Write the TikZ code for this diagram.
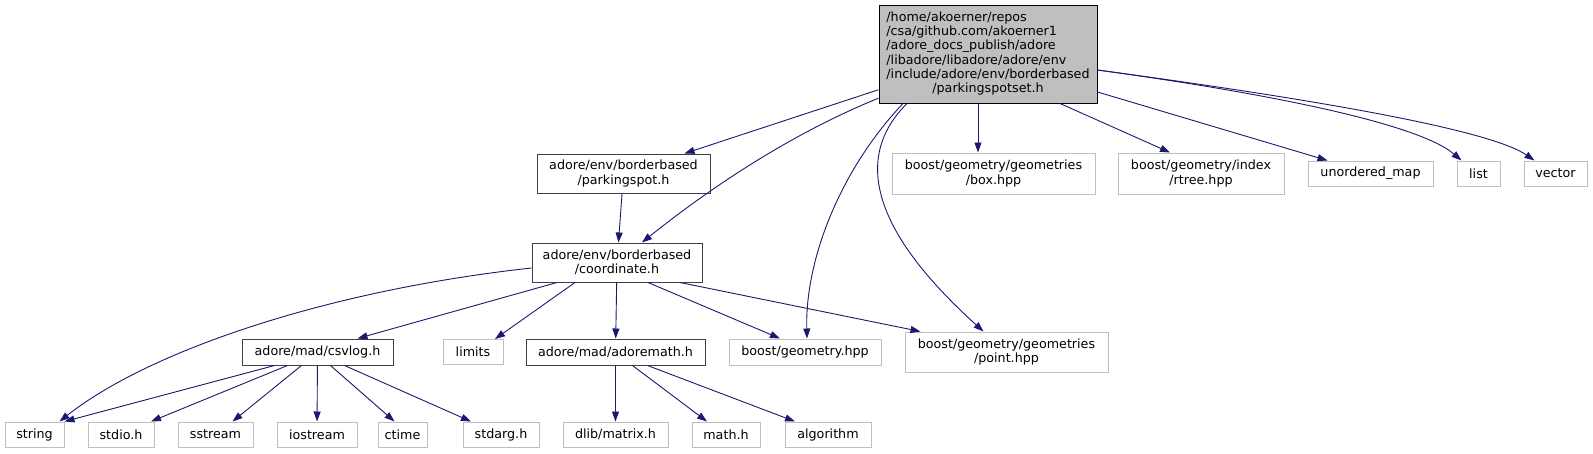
\documentclass[tikz,border=0pt]{standalone}
\usepackage{fontspec}
\setmainfont{DejaVu Sans}
\usetikzlibrary{arrows.meta}
\definecolor{edgeblue}{RGB}{25,25,112}
\definecolor{extgray}{RGB}{191,191,191}
\definecolor{rootfill}{RGB}{191,191,191}
\definecolor{intborder}{RGB}{64,64,64}
\tikzset{
  box/.style={draw, line width=1pt, inner sep=0pt, align=center, font=\fontsize{12.7}{14.3}\selectfont},
  intnode/.style={box, draw=intborder},
  extnode/.style={box, draw=extgray},
  rootnode/.style={box, draw=black, fill=rootfill},
  edge/.style={draw=edgeblue, line width=0.9pt, -{Triangle[length=10pt,width=7pt]}, fill=none},
}
\begin{document}
\begin{tikzpicture}[x=1pt,y=-1pt]
\useasboundingbox (0,0) rectangle (1593,453);
% nodes
\node[rootnode, minimum width=218pt, minimum height=98pt] (root) at (988,54) {\begin{tabular}{@{}l@{}}/home/akoerner/repos\\/csa/github.com/akoerner1\\/adore\_docs\_publish/adore\\/libadore/libadore/adore/env\\/include/adore/env/borderbased\\\multicolumn{1}{@{}c@{}}{/parkingspotset.h}\end{tabular}};
\node[intnode, minimum width=173pt, minimum height=39pt] (ps) at (623.5,173.5) {adore/env/borderbased\\/parkingspot.h};
\node[intnode, minimum width=170pt, minimum height=39pt] (coord) at (617,262.5) {adore/env/borderbased\\/coordinate.h};
\node[extnode, minimum width=203pt, minimum height=41pt] (box) at (993.5,173.5) {boost/geometry/geometries\\/box.hpp};
\node[extnode, minimum width=166pt, minimum height=41pt] (rtree) at (1201,173.5) {boost/geometry/index\\/rtree.hpp};
\node[extnode, minimum width=125pt, minimum height=25pt] (umap) at (1370.5,173.5) {unordered\_map};
\node[extnode, minimum width=43pt, minimum height=25pt] (list) at (1478.5,173.5) {list};
\node[extnode, minimum width=63pt, minimum height=25pt] (vector) at (1555.5,173.5) {vector};
\node[intnode, minimum width=151pt, minimum height=26pt] (csv) at (317.5,352) {adore/mad/csvlog.h};
\node[extnode, minimum width=60pt, minimum height=25pt] (limits) at (473,352) {limits};
\node[intnode, minimum width=179pt, minimum height=26pt] (adm) at (615.5,352) {adore/mad/adoremath.h};
\node[extnode, minimum width=152pt, minimum height=26pt] (geo) at (805,352) {boost/geometry.hpp};
\node[extnode, minimum width=203pt, minimum height=40pt] (point) at (1006.5,352) {boost/geometry/geometries\\/point.hpp};
\node[extnode, minimum width=59pt, minimum height=25pt] (string) at (34.5,434.5) {string};
\node[extnode, minimum width=66pt, minimum height=25pt] (stdio) at (121,434.5) {stdio.h};
\node[extnode, minimum width=75pt, minimum height=25pt] (sstream) at (215.5,434.5) {sstream};
\node[extnode, minimum width=80pt, minimum height=25pt] (iostream) at (317,434.5) {iostream};
\node[extnode, minimum width=49pt, minimum height=25pt] (ctime) at (402.5,434.5) {ctime};
\node[extnode, minimum width=76pt, minimum height=25pt] (stdarg) at (501,434.5) {stdarg.h};
\node[extnode, minimum width=105pt, minimum height=25pt] (dlib) at (615.5,434.5) {dlib/matrix.h};
\node[extnode, minimum width=68pt, minimum height=25pt] (math) at (726,434.5) {math.h};
\node[extnode, minimum width=86pt, minimum height=25pt] (algo) at (828,434.5) {algorithm};
% edges from root
\draw[edge] (root) -- (ps);
\draw[edge] (root) .. controls (800,130) and (720,180) .. (coord);
\draw[edge] ([xshift=-85pt]root.south) .. controls (840,170) and (805,260) .. ([xshift=2pt]geo.north);
\draw[edge] ([xshift=-81pt]root.south) .. controls (860,150) and (860,220) .. ([xshift=-23pt]point.north);
\draw[edge] ([xshift=-10pt]root.south) -- ([xshift=-15.5pt]box.north);
\draw[edge] ([xshift=72pt]root.south) -- ([xshift=-31pt]rtree.north);
\draw[edge] ([yshift=-38pt]root.east) -- ([xshift=-43pt]umap.north);
\draw[edge] ([yshift=-16pt]root.east) .. controls (1280,95) and (1420,125) .. ([xshift=-17pt]list.north);
\draw[edge] ([yshift=-16pt]root.east) .. controls (1320,100) and (1490,130) .. ([xshift=-21pt]vector.north);
% parkingspot
\draw[edge] (ps) -- (coord);
% coordinate
\draw[edge] ([yshift=-5.5pt]coord.west) .. controls (330,290) and (150,350) .. ([xshift=25pt]string.north);
\draw[edge] ([xshift=-60pt]coord.south) -- ([xshift=40pt]csv.north);
\draw[edge] ([xshift=-42pt]coord.south) -- ([xshift=22pt]limits.north);
\draw[edge] (coord) -- (adm);
\draw[edge] ([xshift=31pt]coord.south) -- ([xshift=-25pt]geo.north);
\draw[edge] ([xshift=63pt]coord.south) -- ([xshift=-86pt]point.north);
% csvlog
\draw[edge] ([xshift=-43pt]csv.south) -- ([xshift=30pt]string.north);
\draw[edge] ([xshift=-30pt]csv.south) -- ([xshift=30pt]stdio.north);
\draw[edge] ([xshift=-16pt]csv.south) -- ([xshift=17pt]sstream.north);
\draw[edge] (csv) -- (iostream);
\draw[edge] ([xshift=13pt]csv.south) -- ([xshift=-8pt]ctime.north);
\draw[edge] ([xshift=27pt]csv.south) -- ([xshift=-30pt]stdarg.north);
% adoremath
\draw[edge] (adm) -- (dlib);
\draw[edge] ([xshift=17pt]adm.south) -- ([xshift=-19pt]math.north);
\draw[edge] ([xshift=32pt]adm.south) -- ([xshift=-33pt]algo.north);
\end{tikzpicture}
\end{document}
